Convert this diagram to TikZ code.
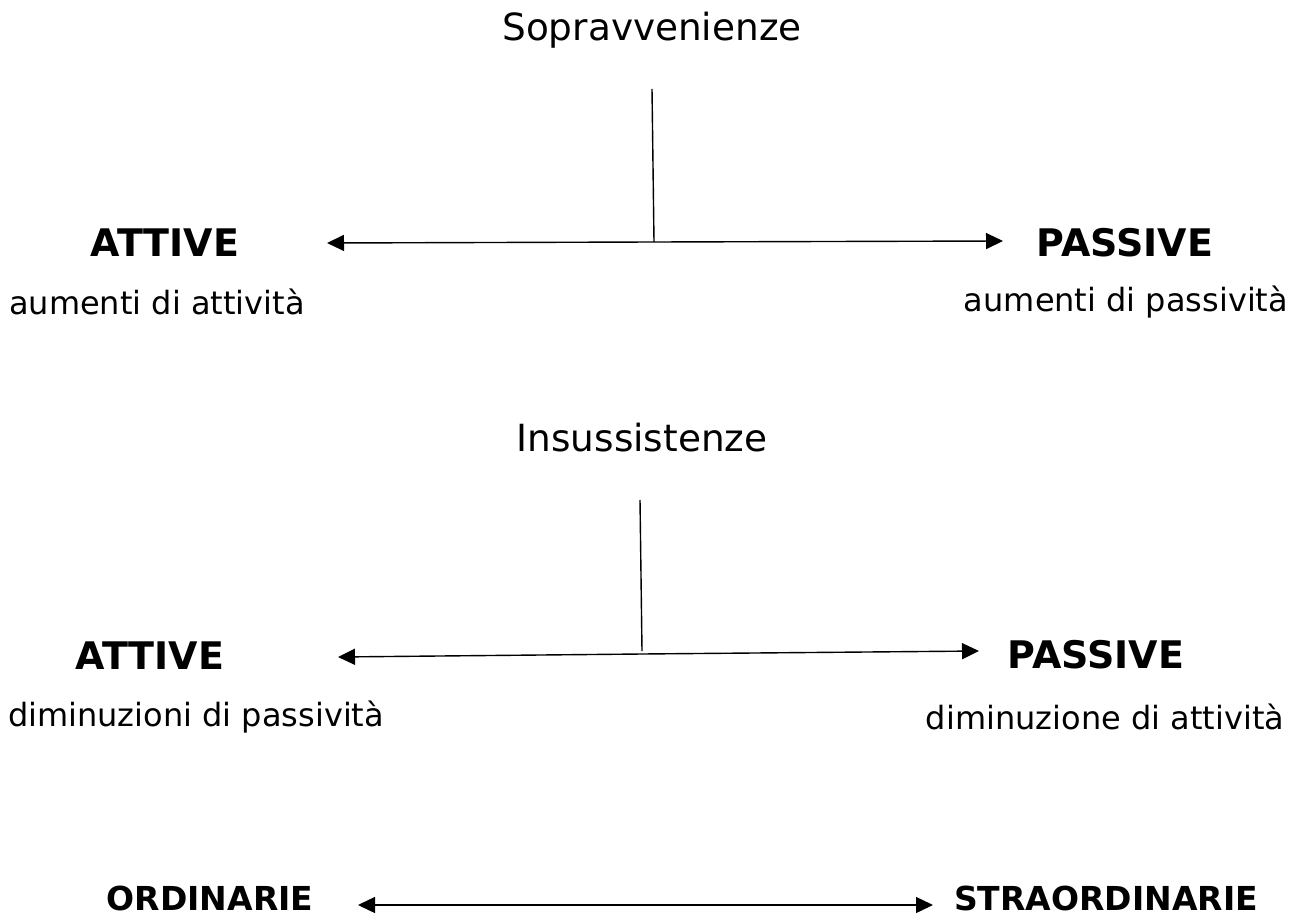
\documentclass[tikz,border=0pt]{standalone}
\usepackage{fontspec}
\setmainfont{DejaVu Sans}
\usetikzlibrary{arrows.meta}
\tikzset{
  title/.style={inner sep=0pt, font=\fontsize{37.4}{42}\selectfont},
  lbl/.style={inner sep=0pt, font=\fontsize{32}{38}\selectfont},
  head/.style={inner sep=0pt, font=\fontsize{38}{42}\selectfont\bfseries},
  headsm/.style={inner sep=0pt, font=\fontsize{33}{38}\selectfont\bfseries},
  conn/.style={line width=1.4pt, draw=black},
  arr/.style={conn, -{Triangle[length=17pt,width=16pt]}},
}
\begin{document}
\begin{tikzpicture}[x=1pt,y=-1pt]
\useasboundingbox[fill=white] (0,0) rectangle (1300,917);
% top group
\node[title] (sop) at (652,30) {Sopravvenienze};
\coordinate (t1) at (652,89);
\coordinate (j1) at (654,242);
\coordinate (l1) at (327,243);
\coordinate (r1) at (1003,241);
\node[head] (att1) at (165,243) {ATTIVE};
\node[head] (pas1) at (1125,243) {PASSIVE};
\node[lbl] (aa) at (157,302) {aumenti di attività};
\node[lbl] (ap) at (1126,302) {aumenti di passività};
\draw[conn] (t1) -- (j1);
\draw[arr] (j1) -- (l1);
\draw[arr] (j1) -- (r1);
% middle group
\node[title] (ins) at (642,438) {Insussistenze};
\coordinate (t2) at (640,500);
\coordinate (j2) at (642,654);
\coordinate (l2) at (338,657);
\coordinate (r2) at (979,651);
\node[head] (att2) at (150,656) {ATTIVE};
\node[head] (pas2) at (1096,655) {PASSIVE};
\node[lbl] (dp) at (196,717) {diminuzioni di passività};
\node[lbl] (da) at (1105,717) {diminuzione di attività};
\draw[conn] (t2) -- (642,651);
\draw[arr] (j2) -- (l2);
\draw[arr] (j2) -- (r2);
% bottom
\node[headsm, anchor=base] (ord) at (210,910) {ORDINARIE};
\node[headsm, anchor=base] (str) at (1106,910) {STRAORDINARIE};
\coordinate (l3) at (358,905);
\coordinate (r3) at (933,905);
\coordinate (m3) at (645,905);
\draw[arr] (m3) -- (l3);
\draw[arr] (m3) -- (r3);
\end{tikzpicture}
\end{document}
